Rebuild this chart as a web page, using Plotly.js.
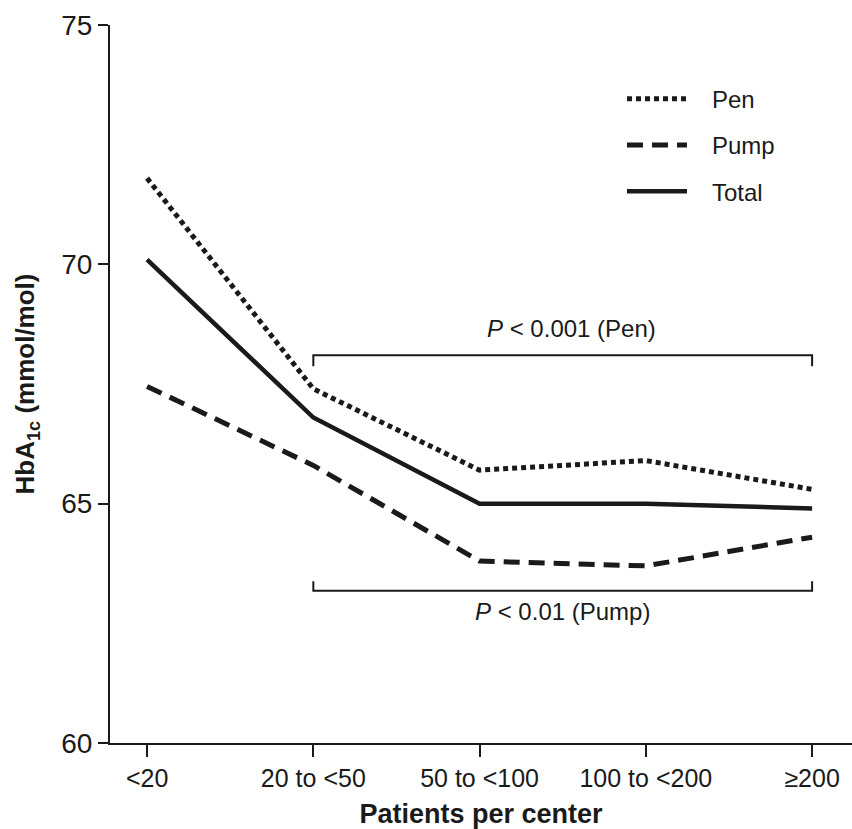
<!DOCTYPE html>
<html>
<head>
<meta charset="utf-8">
<script src="https://cdn.plot.ly/plotly-3.0.1.min.js"></script>
<style>html,body{margin:0;padding:0;background:#fff;}#chart{width:852px;height:829px;}</style>
</head>
<body>
<div id="chart"></div>
<script>
const categories = ["<20", "20 to <50", "50 to <100", "100 to <200", "\u2265200"];
const seriesNames = ["Pen", "Pump", "Total"];
const penValues = [71.8, 67.4, 65.7, 65.9, 65.3];
const pumpValues = [67.45, 65.8, 63.8, 63.7, 64.3];
const totalValues = [70.1, 66.8, 65.0, 65.0, 64.9];
const yTicks = [60, 65, 70, 75];

const ink = '#1a1a1a';
const font = 'Liberation Sans, Arial, Helvetica, sans-serif';
const pad = '\u00a0\u00a0\u00a0';

const traces = [
  {x: categories, y: penValues, name: pad + seriesNames[0], legendgroup: 'a', type: 'scatter', mode: 'lines',
   line: {color: ink, width: 5, dash: '5px,4px'}},
  {x: categories, y: pumpValues, name: pad + seriesNames[1], legendgroup: 'b', type: 'scatter', mode: 'lines',
   line: {color: ink, width: 5, dash: '16px,9px'}},
  {x: categories, y: totalValues, name: pad + seriesNames[2], legendgroup: 'c', type: 'scatter', mode: 'lines',
   line: {color: ink, width: 4.5}}
];

const layout = {
  width: 852, height: 829,
  margin: {l: 110, r: 0, t: 25, b: 86},
  paper_bgcolor: '#fff', plot_bgcolor: '#fff',
  font: {family: font, color: ink, size: 24},
  showlegend: true,
  legend: {x: 0.69, y: 0.928, xanchor: 'left', yanchor: 'top',
           font: {size: 24, color: ink}, itemwidth: 60, bgcolor: 'rgba(0,0,0,0)',
           traceorder: 'grouped', tracegroupgap: 12},
  xaxis: {
    type: 'category', range: [-0.223, 4.24],
    showline: true, linecolor: ink, linewidth: 2,
    ticks: 'outside', ticklen: 12, tickwidth: 2, tickcolor: ink,
    showgrid: false, zeroline: false,
    tickfont: {size: 25, color: ink},
    title: {text: '<b>Patients per center</b>', font: {size: 27, color: ink}, standoff: 14}
  },
  yaxis: {
    range: [60, 75], tickvals: yTicks, ticktext: yTicks.map(String),
    showline: true, linecolor: ink, linewidth: 2,
    ticks: 'outside', ticklen: 10, tickwidth: 2, tickcolor: ink,
    showgrid: false, zeroline: false,
    tickfont: {size: 28, color: ink},
    title: {text: '<b>HbA<sub>1c</sub> (mmol/mol)</b>', font: {size: 26, color: ink}, standoff: 19}
  },
  shapes: [
    {type: 'path', xref: 'x', yref: 'y', path: 'M1,67.87 L1,68.1 L4,68.1 L4,67.87',
     line: {color: ink, width: 2}},
    {type: 'path', xref: 'x', yref: 'y', path: 'M1,63.38 L1,63.18 L4,63.18 L4,63.38',
     line: {color: ink, width: 2}}
  ],
  annotations: [
    {xref: 'x', yref: 'y', x: 2.55, y: 68.67, text: '<i>P</i> < 0.001 (Pen)', showarrow: false,
     font: {size: 24, color: ink}},
    {xref: 'x', yref: 'y', x: 2.5, y: 62.74, text: '<i>P</i> < 0.01 (Pump)', showarrow: false,
     font: {size: 24, color: ink}}
  ]
};

Plotly.newPlot('chart', traces, layout, {staticPlot: true, displayModeBar: false});
</script>
</body>
</html>
